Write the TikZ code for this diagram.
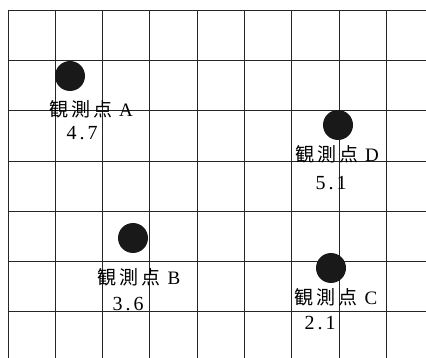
\documentclass[tikz,border=0pt]{standalone}
\usepackage{fontspec}
\setmainfont{Liberation Serif}
\newfontfamily\cjk{Noto Sans CJK JP}
\begin{document}
\begin{tikzpicture}[x=1pt,y=-1pt,
  gridline/.style={line width=1pt,draw=black!85},
  station/.style={circle,fill=black!90,minimum size=30pt,inner sep=0pt},
  lbl/.style={inner sep=0pt,font=\fontsize{19}{19}\selectfont},
  val/.style={inner sep=0pt,font=\fontsize{20}{20}\selectfont}]
\useasboundingbox[fill=white] (0,0) rectangle (426,358);
% grid
\foreach \i in {0,...,8}{
  \draw[gridline] ({8+47.3*\i},10) -- ({8+47.3*\i},358);
}
\foreach \j in {0,...,6}{
  \draw[gridline] (8,{10.5+50.25*\j}) -- (426,{10.5+50.25*\j});
}
\newcommand{\kansoku}[1]{{\cjk 観}\hspace{3pt}{\cjk 測}\hspace{3pt}{\cjk 点}\hspace{7pt}#1}
% stations
\node[station] (A) at (70,76) {};
\node[station] (B) at (133,238) {};
\node[station] (C) at (331,268) {};
\node[station] (D) at (338,125) {};
% labels
\node[lbl] (la) at (91,109) {\kansoku{A}};
\node[val] (va) at (82,133) {4\hspace{3pt}.\hspace{3pt}7};
\node[lbl] (lb) at (139,277) {\kansoku{B}};
\node[val] (vb) at (128,304) {3\hspace{3pt}.\hspace{3pt}6};
\node[lbl] (lc) at (336,297) {\kansoku{C}};
\node[val] (vc) at (320,323) {2\hspace{3pt}.\hspace{3pt}1};
\node[lbl] (ld) at (337,154) {\kansoku{D}};
\node[val] (vd) at (331,183) {5\hspace{3pt}.\hspace{3pt}1};
\end{tikzpicture}
\end{document}
